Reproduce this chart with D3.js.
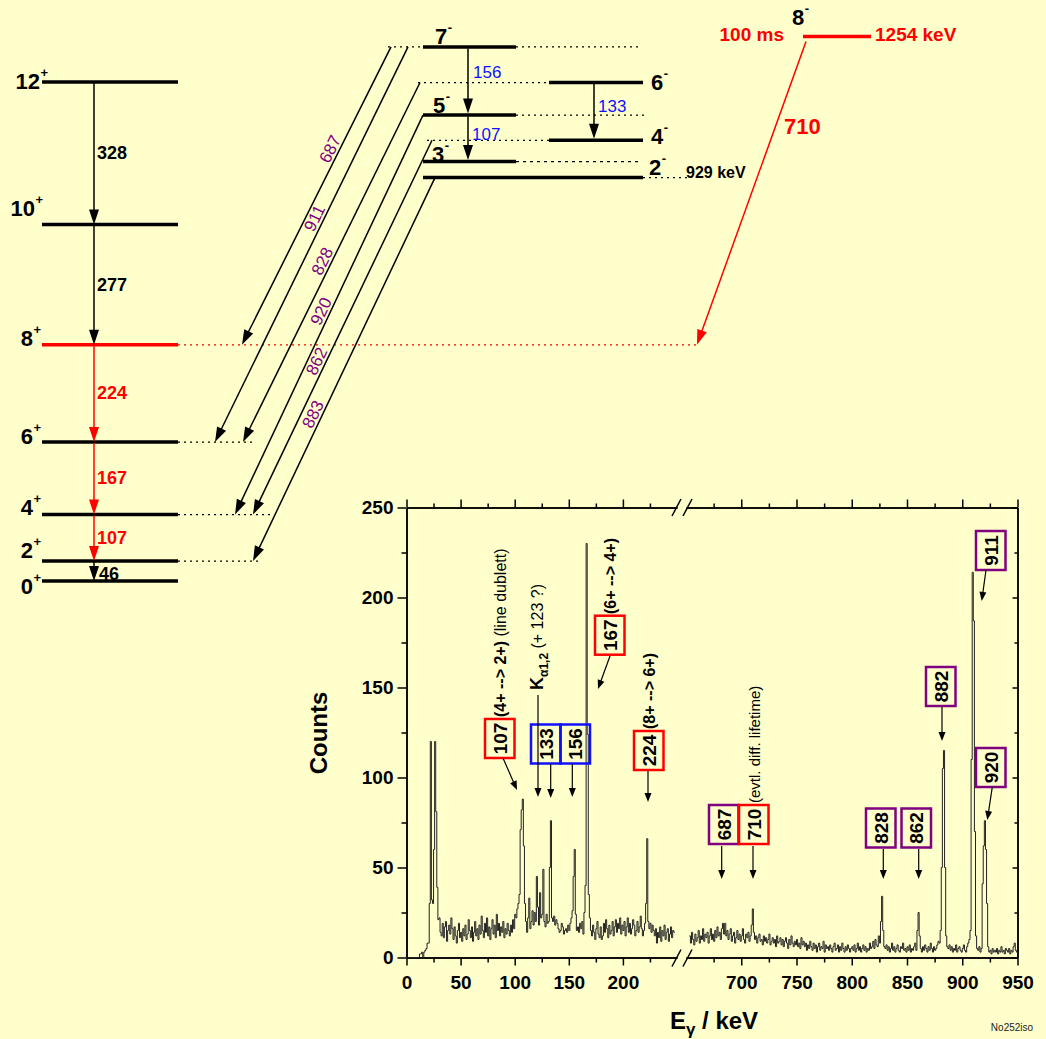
<!DOCTYPE html>
<html>
<head>
<meta charset="utf-8">
<script src="https://cdn.jsdelivr.net/npm/d3@7"></script>
<style>
  body { margin: 0; background: #ffffcc; }
  svg { display: block; font-family: "Liberation Sans", Arial, Helvetica, sans-serif; }
</style>
</head>
<body>
<svg id="chart" width="1046" height="1039"></svg>
<script>
// ground state band: spins and level energies (keV)
const gsbSpins = ['0', '2', '4', '6', '8', '10', '12']
const gsbEnergies = [0, 46, 153, 320, 544, 821, 1149]
// gammas between neighbouring gsb levels (level i+1 -> level i)
const gsbGammas = [46, 107, 167, 224, 277, 328]

// negative parity band
const sideSpins = ['2', '3', '4', '5', '6', '7']
const sideEnergies = [929, 966, 1015, 1073, 1148, 1230]
const sideGammas = [156, 107, 133]
const sideFrom = ['7', '5', '6']
const sideTo = ['5', '3', '4']

// interband transitions (negative parity -> gsb)
const interGammas = [687, 911, 828, 920, 862, 883]
const interFrom = ['7', '7', '6', '5', '4', '2']
const interTo = ['8', '6', '6', '4', '4', '2']

// isomer
const isoSpin = '8'
const isoEnergy = 1254
const isoHalfLife = '100 ms'
const isoGamma = 710
const isoTo = '8'

// spectrum, 1 keV bins
const lowStart = 0
const lowCounts = [
  0, 0, 0, 0, 0, 0, 0, 0, 0, 0, 0, 0, 2, 2, 3, 0, 3, 4, 5, 8,
  8, 30, 120, 32, 30, 60, 120, 81, 39, 21,
  22, 14, 12, 19, 11, 17, 20, 9, 15, 18,
  13, 22, 16, 10, 17, 12, 8, 15, 19, 11,
  14, 9, 16, 12, 18, 10, 13, 21, 15, 11,
  17, 9, 14, 20, 12, 16, 10, 18, 13, 23,
  15, 11, 19, 14, 22, 12, 17, 10, 16, 21,
  13, 18, 11, 24, 15, 19, 12, 17, 14, 20,
  11, 16, 13, 19, 15, 12, 18, 14, 21, 16,
  24, 22, 27, 30, 35, 71, 82, 88, 62, 30,
  20, 14, 22, 33, 16, 20, 26, 18, 25, 20,
  45, 28, 18, 36, 22, 24, 49, 20, 17, 24,
  19, 20, 50, 76, 22, 20, 23, 18, 21, 19,
  16, 14, 15, 19, 17, 13, 15, 16, 14, 18,
  15, 19, 22, 26, 45, 60, 24, 15, 17, 14,
  19, 16, 20, 13, 25, 40, 230, 124, 35, 22,
  15, 12, 18, 14, 10, 16, 20, 13, 11, 17,
  10, 12, 19, 14, 21, 16, 11, 18, 13, 15,
  20, 12, 17, 21, 14, 19, 16, 22, 13, 18,
  15, 20, 12, 17, 22, 14, 19, 13, 16, 21,
  18, 12, 15, 20, 14, 17, 23, 16, 12, 15,
  19, 30, 66, 20, 16, 19, 14, 18, 15, 12,
  16, 8, 14, 11, 17, 9, 15, 12, 18, 10,
  14, 16, 9, 13, 17, 11, 15, 14
]
const highStart = 653
const highCounts = [
  12, 8, 14, 10, 7, 13, 9,
  11, 15, 8, 12, 10, 16, 9, 13, 11, 14,
  8, 12, 16, 10, 13, 9, 15, 11, 17, 12,
  14, 10, 16, 19, 13, 19, 12, 15, 10, 13,
  16, 9, 12, 14, 8, 11, 15, 10, 13, 9,
  12, 16, 10, 8, 13, 11, 14, 9, 12, 18,
  27, 14, 10, 12, 8, 11, 13, 9, 10, 7,
  12, 9, 11, 8, 10, 13, 7, 9, 11, 8,
  10, 6, 12, 8, 9, 11, 7, 10, 6, 9,
  11, 8, 5, 10, 7, 12, 8, 6, 9, 7,
  10, 6, 8, 5, 11, 7, 9, 6, 8, 4,
  7, 5, 9, 6, 4, 8, 5, 7, 3, 6,
  8, 4, 6, 5, 9, 3, 7, 5, 6, 4,
  7, 5, 3, 6, 8, 4, 5, 7, 3, 6,
  4, 8, 5, 3, 6, 4, 7, 5, 3, 5,
  6, 4, 7, 3, 5, 8, 4, 6, 3, 5,
  7, 4, 6, 3, 5, 4, 8, 5, 6, 9,
  5, 10, 7, 6, 12, 8, 20, 34, 15, 6,
  5, 7, 4, 6, 3, 5, 8, 4, 6, 3,
  5, 7, 4, 3, 6, 5, 8, 4, 5, 3,
  6, 4, 7, 3, 5, 4, 6, 8, 4, 15,
  25, 12, 5, 3, 6, 4, 7, 5, 3, 6,
  4, 8, 5, 3, 6, 4, 5, 7, 9, 8,
  15, 50, 105, 115, 50, 12, 6, 5, 7, 4,
  6, 3, 5, 4, 7, 3, 5, 6, 4, 3,
  5, 7, 4, 3, 6, 8, 10, 15, 110, 214,
  187, 70, 12, 5, 4, 6, 3, 5, 41, 62,
  76, 60, 30, 6, 3, 4, 2, 5, 3, 4,
  3, 5, 2, 4, 3, 6, 3, 4, 2, 5,
  4, 3, 5, 2, 4, 3, 6, 8, 4, 3
]
const xTicksLow = [0, 50, 100, 150, 200]
const xMinorLow = [25, 75, 125, 175, 225]
const xTicksHigh = [700, 750, 800, 850, 900, 950]
const xMinorHigh = [675, 725, 775, 825, 875, 925]
const yTicks = [0, 50, 100, 150, 200, 250]
const yMinor = [25, 75, 125, 175, 225]

const peakLabels = ['107', '133', '156', '167', '224', '687', '710', '828', '862', '882', '911', '920']

const RED = '#ff0000'
const BLUE = '#1010ff'
const PURPLE = '#800080'

const svg = d3.select('#chart')

function arrow (g, x1, y1, x2, y2, color, hl, hw, sw) {
  const dx = x2 - x1, dy = y2 - y1, len = Math.hypot(dx, dy)
  const ux = dx / len, uy = dy / len
  const bx = x2 - ux * hl, by = y2 - uy * hl
  g.append('line').attr('x1', x1).attr('y1', y1).attr('x2', bx + ux).attr('y2', by + uy)
    .attr('stroke', color).attr('stroke-width', sw)
  g.append('path')
    .attr('d', `M${x2},${y2}L${bx - uy * hw},${by + ux * hw}L${bx + uy * hw},${by - ux * hw}Z`)
    .attr('fill', color)
}

function hline (g, x1, x2, yy, color, sw, dash) {
  const l = g.append('line').attr('x1', x1).attr('x2', x2).attr('y1', yy).attr('y2', yy)
    .attr('stroke', color).attr('stroke-width', sw)
  if (dash) l.attr('stroke-dasharray', dash)
  return l
}

function spinLabel (g, x, yy, num, sign, anchor, color) {
  const t = g.append('text').attr('x', x).attr('y', yy).attr('dominant-baseline', 'central')
    .attr('text-anchor', anchor).attr('font-size', 22).attr('font-weight', 'bold')
    .attr('fill', color || '#000').text(num)
  const w = t.node().getComputedTextLength()
  const xe = anchor === 'end' ? x : x + w
  g.append('text').attr('x', xe + 0.5).attr('y', yy - 9).attr('dominant-baseline', 'central')
    .attr('font-size', 13).attr('font-weight', 'bold').attr('fill', color || '#000').text(sign)
}

// ---------------- level scheme ----------------
const yE = d3.scaleLinear().domain([0, isoEnergy]).range([581, 36.5])
const scheme = svg.append('g')

const gsb = gsbSpins.map((s, i) => ({ spin: s, e: gsbEnergies[i] }))
const gsbY = s => yE(gsbEnergies[gsbSpins.indexOf(s)])
const sideY = s => yE(sideEnergies[sideSpins.indexOf(s)])

// dotted extensions of gsb levels toward the feeding arrows
const gsbExt = { '8': 697, '6': 256, '4': 272, '2': 258 }
gsb.forEach(d => {
  if (gsbExt[d.spin]) hline(scheme, 178, gsbExt[d.spin], yE(d.e), d.spin === isoTo ? RED : '#000', 1.2, '2,4')
})

scheme.selectAll('line.gsb').data(gsb).enter().append('line')
  .attr('class', 'gsb')
  .attr('x1', 42).attr('x2', 178)
  .attr('y1', d => yE(d.e)).attr('y2', d => yE(d.e))
  .attr('stroke', d => d.spin === isoTo ? RED : '#000')
  .attr('stroke-width', 3.5)

const gsbLabelDy = { '0': 5, '2': -11, '4': -7, '6': -6, '8': -6, '10': -16, '12': -1 }
const gsbLabelX = { '12': 40, '10': 35 }
gsb.forEach(d => spinLabel(scheme, gsbLabelX[d.spin] || 33, yE(d.e) + gsbLabelDy[d.spin], d.spin, '+', 'end'))

// in-band gammas of the gsb
const redGsb = [224, 167, 107]
gsbGammas.forEach((g, i) => {
  const yTop = yE(gsbEnergies[i + 1]), yBot = yE(gsbEnergies[i])
  const col = redGsb.includes(g) ? RED : '#000'
  arrow(scheme, 94, yTop + 1, 94, yBot, col, 15, 5, 1.5)
  scheme.append('text').attr('x', g === 46 ? 99 : 97).attr('y', (yTop + yBot) / 2 + (g === 46 ? 3 : 0))
    .attr('dominant-baseline', 'central').attr('font-size', 18).attr('font-weight', 'bold')
    .attr('fill', col).text(g)
})

// negative parity band levels
const sideLayout = {
  '2': { x1: 423, x2: 643, ext: [[643, 690, '2,4']] },
  '3': { x1: 423, x2: 516, ext: [[516, 640, '3,4']] },
  '4': { x1: 549, x2: 643, ext: [[427, 549, '2,4']] },
  '5': { x1: 423, x2: 516, ext: [[516, 645, '2,4']] },
  '6': { x1: 549, x2: 643, ext: [[418, 549, '2,4']] },
  '7': { x1: 423, x2: 516, ext: [[388, 423, '2,4'], [516, 640, '2,4']] }
}
const sideLabel = {
  '2': { x: 649, dy: -10 },
  '3': { x: 432, dy: -7 },
  '4': { x: 651, dy: -4 },
  '5': { x: 433, dy: -10 },
  '6': { x: 651, dy: 0 },
  '7': { x: 435, dy: -10 }
}
sideSpins.forEach((s, i) => {
  const L = sideLayout[s], yy = yE(sideEnergies[i])
  L.ext.forEach(e => hline(scheme, e[0], e[1], yy, '#000', 1.2, e[2]))
})
sideSpins.forEach((s, i) => {
  const L = sideLayout[s], yy = yE(sideEnergies[i])
  hline(scheme, L.x1, L.x2, yy, '#000', 3.5)
  spinLabel(scheme, sideLabel[s].x, yy + sideLabel[s].dy, s, '-', 'start')
})
scheme.append('text').attr('x', 686).attr('y', sideY('2') - 5).attr('dominant-baseline', 'central')
  .attr('font-size', 16).attr('font-weight', 'bold').text(sideEnergies[0] + ' keV')

// in-band gammas of the negative parity band
const sideGammaX = { '7': 468, '5': 468, '6': 594 }
const sideGammaLabel = { 156: [473, 72.7], 107: [472, 134], 133: [598, 106.7] }
sideGammas.forEach((g, i) => {
  const x = sideGammaX[sideFrom[i]]
  arrow(scheme, x, sideY(sideFrom[i]) + 1.5, x, sideY(sideTo[i]) - 1.5, '#000', 15, 5, 1.5)
  scheme.append('text').attr('x', sideGammaLabel[g][0]).attr('y', sideGammaLabel[g][1])
    .attr('dominant-baseline', 'central').attr('font-size', 17).attr('fill', BLUE).text(g)
})

// interband arrows
const interLayout = [
  { x1: 391, x2: 242, ly: 153 },
  { x1: 408, x2: 215, ly: 222 },
  { x1: 420, x2: 243, ly: 265 },
  { x1: 423, x2: 235, ly: 315 },
  { x1: 432, x2: 253, ly: 365 },
  { x1: 435, x2: 253, ly: 418 }
]
interGammas.forEach((g, i) => {
  const L = interLayout[i]
  const y1 = sideY(interFrom[i]), y2 = gsbY(interTo[i])
  arrow(scheme, L.x1, y1, L.x2, y2, '#000', 15, 5, 1.5)
  const dx = L.x1 - L.x2, dy = y1 - y2, len = Math.hypot(dx, dy)
  const ux = dx / len, uy = dy / len
  const px = L.x2 + (L.ly - y2) * dx / dy, py = L.ly
  const bx = px + uy * 3, by = py - ux * 3
  const ang = Math.atan2(dy, dx) * 180 / Math.PI
  scheme.append('text').attr('transform', `translate(${bx},${by}) rotate(${ang})`)
    .attr('text-anchor', 'middle').attr('font-size', 17).attr('fill', PURPLE).text(g)
})

// isomer
const yIso = yE(isoEnergy)
hline(scheme, 803, 871, yIso, RED, 3.5)
spinLabel(scheme, 792, 17, isoSpin, '-', 'start')
scheme.append('text').attr('x', 784).attr('y', yIso - 2).attr('text-anchor', 'end')
  .attr('dominant-baseline', 'central').attr('font-size', 19).attr('font-weight', 'bold')
  .attr('fill', RED).text(isoHalfLife)
scheme.append('text').attr('x', 875).attr('y', yIso - 2)
  .attr('dominant-baseline', 'central').attr('font-size', 19).attr('font-weight', 'bold')
  .attr('fill', RED).text(isoEnergy + ' keV')
arrow(scheme, 806, yIso + 5, 697, gsbY(isoTo), RED, 15, 5, 1.5)
scheme.append('text').attr('x', 784).attr('y', 126).attr('dominant-baseline', 'central')
  .attr('font-size', 22).attr('font-weight', 'bold').attr('fill', RED).text(isoGamma)

// ---------------- spectrum ----------------
const xLow = d3.scaleLinear().domain([0, 250]).range([406.5, 677])
const xHigh = d3.scaleLinear().domain([650, 950]).range([686, 1017.5])
const yC = d3.scaleLinear().domain([0, 250]).range([957.5, 507.5])
const spec = svg.append('g')

function styleAxis (g) {
  g.selectAll('path, line').attr('stroke', '#000').attr('stroke-width', 1.5)
  g.selectAll('text').attr('font-size', 19).attr('font-weight', 'bold')
    .attr('font-family', '"Liberation Sans", Arial, sans-serif').attr('fill', '#000')
}

const axBottom = spec.append('g').attr('transform', `translate(0,${yC(0)})`)
axBottom.append('g').call(d3.axisBottom(xLow).tickValues(xTicksLow).tickSize(8).tickSizeOuter(0).tickPadding(10)).call(styleAxis)
axBottom.append('g').call(d3.axisBottom(xLow).tickValues(xMinorLow).tickSize(5).tickSizeOuter(0).tickFormat('')).call(styleAxis)
axBottom.append('g').call(d3.axisBottom(xHigh).tickValues(xTicksHigh).tickSize(8).tickSizeOuter(0).tickPadding(10)).call(styleAxis)
axBottom.append('g').call(d3.axisBottom(xHigh).tickValues(xMinorHigh).tickSize(5).tickSizeOuter(0).tickFormat('')).call(styleAxis)

const axTop = spec.append('g').attr('transform', `translate(0,${yC(250)})`)
axTop.append('g').call(d3.axisTop(xLow).tickValues(xTicksLow).tickSize(8).tickSizeOuter(0).tickFormat('')).call(styleAxis)
axTop.append('g').call(d3.axisTop(xLow).tickValues(xMinorLow).tickSize(4).tickSizeOuter(0).tickFormat('')).call(styleAxis)
axTop.append('g').call(d3.axisTop(xHigh).tickValues(xTicksHigh).tickSize(8).tickSizeOuter(0).tickFormat('')).call(styleAxis)
axTop.append('g').call(d3.axisTop(xHigh).tickValues(xMinorHigh).tickSize(4).tickSizeOuter(0).tickFormat('')).call(styleAxis)

const axLeft = spec.append('g').attr('transform', `translate(${xLow(0)},0)`)
axLeft.append('g').call(d3.axisLeft(yC).tickValues(yTicks).tickSize(9).tickSizeOuter(0).tickPadding(4)).call(styleAxis)
axLeft.append('g').call(d3.axisLeft(yC).tickValues(yMinor).tickSize(5).tickSizeOuter(0).tickFormat('')).call(styleAxis)

const axRight = spec.append('g').attr('transform', `translate(${xHigh(950)},0)`)
axRight.append('g').call(d3.axisLeft(yC).tickValues(yTicks).tickSize(5).tickSizeOuter(0).tickFormat('')).call(styleAxis)
axRight.append('g').call(d3.axisLeft(yC).tickValues(yMinor).tickSize(3).tickSizeOuter(0).tickFormat('')).call(styleAxis)

// axis break marks
;[yC(0) + 0.5, yC(250)].forEach(yy => {
  ;[672, 683].forEach(x => {
    spec.append('line').attr('x1', x).attr('y1', yy + 8.5).attr('x2', x + 9).attr('y2', yy - 8.5)
      .attr('stroke', '#000').attr('stroke-width', 1.5)
  })
})

// histograms
function steps (start, counts) {
  const pts = counts.map((c, i) => [start + i, c])
  pts.push([start + counts.length, counts[counts.length - 1]])
  return pts
}
const histLow = d3.line().x(d => xLow(d[0])).y(d => yC(d[1])).curve(d3.curveStepAfter)
const histHigh = d3.line().x(d => xHigh(d[0])).y(d => yC(d[1])).curve(d3.curveStepAfter)
spec.append('path').attr('d', histLow(steps(lowStart, lowCounts)))
  .attr('fill', 'none').attr('stroke', '#222').attr('stroke-width', 1)
spec.append('path').attr('d', histHigh(steps(highStart, highCounts)))
  .attr('fill', 'none').attr('stroke', '#222').attr('stroke-width', 1)

// axis titles
spec.append('text').attr('transform', 'translate(318,733) rotate(-90)')
  .attr('text-anchor', 'middle').attr('dominant-baseline', 'central')
  .attr('font-size', 24).attr('font-weight', 'bold').text('Counts')
const xt = spec.append('text').attr('x', 714).attr('y', 1029).attr('text-anchor', 'middle')
  .attr('font-size', 24).attr('font-weight', 'bold')
xt.append('tspan').text('E')
xt.append('tspan').attr('dy', 6).attr('font-size', 17).text('γ')
xt.append('tspan').attr('dy', -6).text(' / keV')
spec.append('text').attr('x', 1012).attr('y', 1031).attr('text-anchor', 'middle')
  .attr('font-size', 10).attr('fill', '#222').text('No252iso')

// peak annotations
const boxLayout = {
  107: { x: 485, y: 719, c: RED },
  133: { x: 531, y: 724.5, c: BLUE },
  156: { x: 560.5, y: 724.5, c: BLUE },
  167: { x: 595, y: 615.7, c: RED },
  224: { x: 634, y: 731, c: RED },
  687: { x: 709, y: 805, c: PURPLE },
  710: { x: 739, y: 805, c: RED },
  828: { x: 866, y: 808.5, c: PURPLE },
  862: { x: 901.5, y: 808.5, c: PURPLE },
  882: { x: 926, y: 667, c: PURPLE },
  911: { x: 976, y: 531, c: PURPLE },
  920: { x: 976, y: 748, c: PURPLE }
}
const ann = spec.append('g')
peakLabels.forEach(p => {
  const b = boxLayout[p]
  ann.append('rect').attr('x', b.x).attr('y', b.y).attr('width', 29.5).attr('height', 39)
    .attr('fill', 'none').attr('stroke', b.c).attr('stroke-width', 2.5)
  ann.append('text').attr('transform', `translate(${b.x + 15},${b.y + 19.5}) rotate(-90)`)
    .attr('text-anchor', 'middle').attr('dominant-baseline', 'central')
    .attr('font-size', 19).attr('font-weight', 'bold').text(p)
})
const annArrows = [
  [503, 758, 517, 790], [538, 695, 538, 797], [550.7, 764, 550.7, 798], [572.3, 764, 572.3, 797],
  [610, 656, 598, 689], [648, 771, 648, 802], [721.7, 846, 721.7, 879], [753, 846, 753, 879],
  [883.3, 849, 883.3, 879], [918.7, 849, 918.7, 879], [942, 707, 942, 741], [986, 570, 981.7, 601],
  [992.3, 787, 987.3, 820]
]
annArrows.forEach(a => arrow(ann, a[0], a[1], a[2], a[3], '#000', 9, 3.5, 1.2))

function vtext (x, yb, parts) {
  const t = ann.append('text').attr('transform', `translate(${x},${yb}) rotate(-90)`)
    .attr('font-size', 16)
  parts.forEach(p => {
    const s = t.append('tspan').text(p.t)
    if (p.b) s.attr('font-weight', 'bold')
    if (p.dy) s.attr('dy', p.dy)
    if (p.fs) s.attr('font-size', p.fs)
  })
}
vtext(506, 717, [{ t: '(4+ --> 2+)', b: true }, { t: ' (line dublett)' }])
vtext(543, 690, [{ t: 'K', b: true, fs: 18 }, { t: 'α1,2', b: true, fs: 12, dy: 5 }, { t: ' (+ 123 ?)', dy: -5 }])
vtext(616, 614, [{ t: '(6+ --> 4+)', b: true }])
vtext(655, 729, [{ t: '(8+ --> 6+)', b: true }])
vtext(760, 803, [{ t: '(evtl. diff. lifetime)', fs: 15 }])
</script>
</body>
</html>
